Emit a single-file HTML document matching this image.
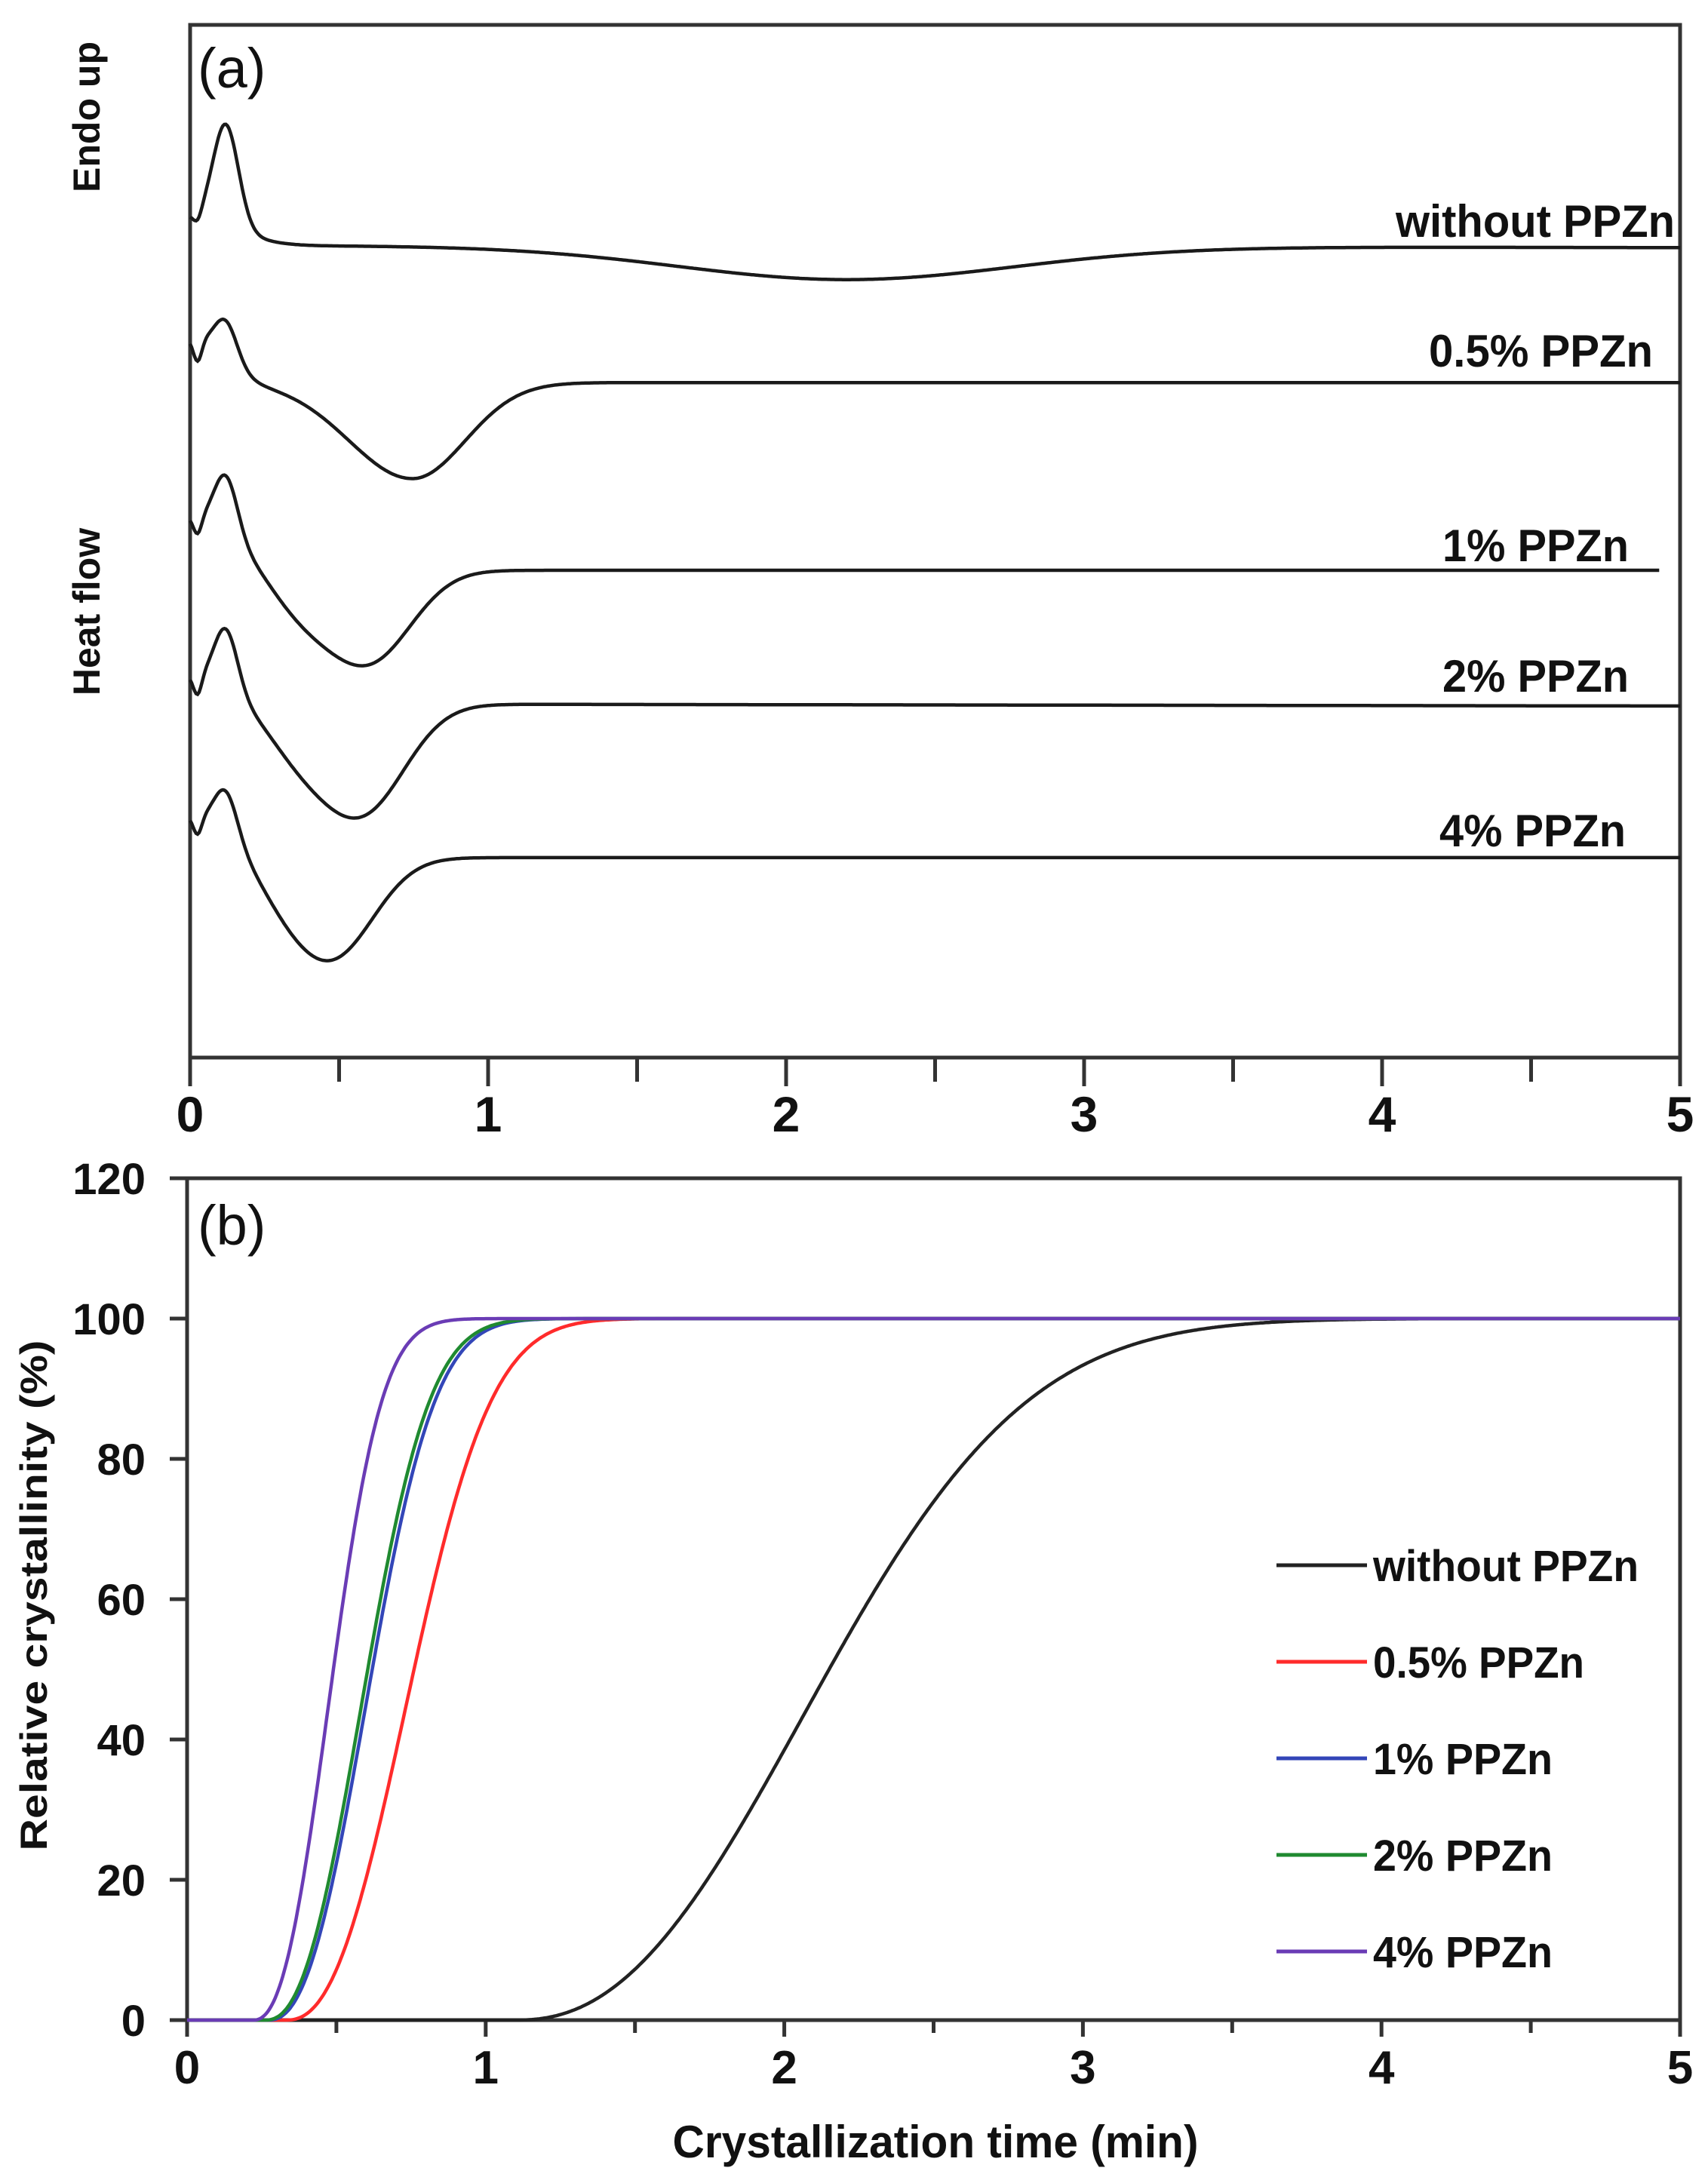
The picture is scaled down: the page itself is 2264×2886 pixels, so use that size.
<!DOCTYPE html>
<html><head><meta charset="utf-8"><style>
html,body{margin:0;padding:0;background:#fff}
svg{display:block}
text{font-family:"Liberation Sans",Arial,sans-serif;fill:#111}
</style></head><body>
<svg id="s" xmlns="http://www.w3.org/2000/svg" width="2264" height="2886" viewBox="0 0 2264 2886">
<rect width="2264" height="2886" fill="#fff"/>
<rect x="252" y="33" width="1975" height="1369" fill="none" stroke="#333" stroke-width="5"/>
<g id="ta" stroke="#333" stroke-width="5"></g>
<text x="262" y="116" font-size="74">(a)</text>
<text transform="translate(132,155) rotate(-90)" font-size="50" font-weight="bold" text-anchor="middle">Endo up</text>
<text transform="translate(132,811) rotate(-90)" font-size="50" font-weight="bold" text-anchor="middle">Heat flow</text>
<g font-size="60" font-weight="bold">
<text x="1850" y="314" textLength="370" lengthAdjust="spacingAndGlyphs">without PPZn</text>
<text x="1894" y="486" textLength="297" lengthAdjust="spacingAndGlyphs">0.5% PPZn</text>
<text x="1912" y="744" textLength="247" lengthAdjust="spacingAndGlyphs">1% PPZn</text>
<text x="1912" y="917" textLength="247" lengthAdjust="spacingAndGlyphs">2% PPZn</text>
<text x="1908" y="1122" textLength="247" lengthAdjust="spacingAndGlyphs">4% PPZn</text>
</g>
<g id="xa" font-size="66" font-weight="bold" text-anchor="middle"></g>
<g id="ca" fill="none" stroke="#1a1a1a" stroke-width="4.5"></g>

<rect x="248" y="1562" width="1979" height="1116" fill="none" stroke="#333" stroke-width="5"/>
<g id="tb" stroke="#333" stroke-width="5"></g>
<text x="262" y="1650" font-size="74">(b)</text>
<g id="yb" font-size="58" font-weight="bold" text-anchor="end"></g>
<g id="xb" font-size="62" font-weight="bold" text-anchor="middle"></g>
<text x="1240" y="2860" font-size="60" font-weight="bold" text-anchor="middle" textLength="697" lengthAdjust="spacingAndGlyphs">Crystallization time (min)</text>
<text transform="translate(62,2115) rotate(-90)" font-size="50" font-weight="bold" text-anchor="middle" textLength="677" lengthAdjust="spacingAndGlyphs">Relative crystallinity (%)</text>
<g id="cb" fill="none" stroke-width="4.5"></g>
<g id="lg" stroke-width="5"></g>
<g font-size="58" font-weight="bold">
<text x="1820" y="2096" textLength="352" lengthAdjust="spacingAndGlyphs">without PPZn</text>
<text x="1820" y="2224" textLength="280" lengthAdjust="spacingAndGlyphs">0.5% PPZn</text>
<text x="1820" y="2352" textLength="238" lengthAdjust="spacingAndGlyphs">1% PPZn</text>
<text x="1820" y="2480" textLength="238" lengthAdjust="spacingAndGlyphs">2% PPZn</text>
<text x="1820" y="2608" textLength="238" lengthAdjust="spacingAndGlyphs">4% PPZn</text>
</g>
</svg>
<script>
var NS="http://www.w3.org/2000/svg";
function el(p,t,a,txt){var e=document.createElementNS(NS,t);for(var k in a)e.setAttribute(k,a[k]);if(txt!=null)e.textContent=txt;document.getElementById(p).appendChild(e);return e;}
function g(t,c,w){var z=(t-c)/w;return Math.exp(-z*z);}
function ga(t,c,wl,wr){var w=t<c?wl:wr;var z=(t-c)/w;return Math.exp(-z*z);}
for(var i=0;i<=10;i++){var x=252+197.5*i;el("ta","line",{x1:x,y1:1402,x2:x,y2:(i%2?1434:1440)});}
for(var i=0;i<=5;i++){el("xa","text",{x:252+395*i,y:1500},String(i));}
var C=[
 {P:340,P2:343,s:40,sw:0.2,Hp:140,wp:0.06,d:15,H1:46,t1:2.2,wl:0.8,wr:0.8,A:0,ts:0.4,ws:0.2,end:5},
 {P:530,P2:530,s:60,sw:0.15,Hp:56,wp:0.055,d:31,H1:133,t1:0.746,wl:0.3,wr:0.25,A:0,ts:0.4,ws:0.2,end:5},
 {P:790,P2:790,s:75,sw:0.35,Hp:78,wp:0.055,d:25,H1:125,t1:0.6,wl:0.2,wr:0.2,A:68,ts:0.35,ws:0.18,end:4.93},
 {P:975,P2:978,s:40,sw:0.35,Hp:82,wp:0.055,d:28,H1:145,t1:0.58,wl:0.2,wr:0.2,A:67,ts:0.35,ws:0.18,end:5},
 {P:1188,P2:1188,s:58,sw:0.35,Hp:60,wp:0.055,d:25,H1:144,t1:0.47,wl:0.2,wr:0.2,A:40,ts:0.28,ws:0.15,end:5}
];
C.forEach(function(c){var d="";for(var t=0;t<=c.end+1e-9;t+=0.005){
 var base=c.P+(c.P2-c.P)*t/5;
 var y=base-c.s*Math.exp(-(t/c.sw)*(t/c.sw))-c.Hp*g(t,0.12,c.wp)+c.d*g(t,0.025,0.02)+c.H1*ga(t,c.t1,c.wl,c.wr)+c.A*g(t,c.ts,c.ws);
 y*=0.957;var x=252+395*t;d+=(d?"L":"M")+x.toFixed(1)+" "+y.toFixed(1);}
 el("ca","path",{d:d});});
for(var i=0;i<=10;i++){var x=248+197.9*i;el("tb","line",{x1:x,y1:2678,x2:x,y2:(i%2?2695:2700)});}
for(var i=0;i<=6;i++){var y=2678-186*i;el("tb","line",{x1:225,y1:y,x2:248,y2:y});el("yb","text",{x:193,y:y+21},String(20*i));}
for(var i=0;i<=5;i++){el("xb","text",{x:248+395.8*i,y:2762},String(i));}
var B=[{c:"#222",t0:1.1,t5:2.15,n:2.3},{c:"#ff2b2b",t0:0.33,t5:0.76,n:2.4},{c:"#3346b8",t0:0.27,t5:0.62,n:2.4},{c:"#1f8a30",t0:0.26,t5:0.605,n:2.4},{c:"#6a3cb5",t0:0.22,t5:0.49,n:2.4}];
B.forEach(function(b){var d="";for(var t=0;t<=5.0001;t+=0.005){var X=0;if(t>b.t0){X=1-Math.exp(-0.693*Math.pow((t-b.t0)/(b.t5-b.t0),b.n));}
 var x=248+395.8*t,y=2678-930*X;d+=(d?"L":"M")+x.toFixed(1)+" "+y.toFixed(1);}
 el("cb","path",{d:d,stroke:b.c});});
var LY=[2075,2203,2331,2459,2587];
B.forEach(function(b,i){el("lg","line",{x1:1692,y1:LY[i],x2:1812,y2:LY[i],stroke:b.c});});
</script>
</body></html>
